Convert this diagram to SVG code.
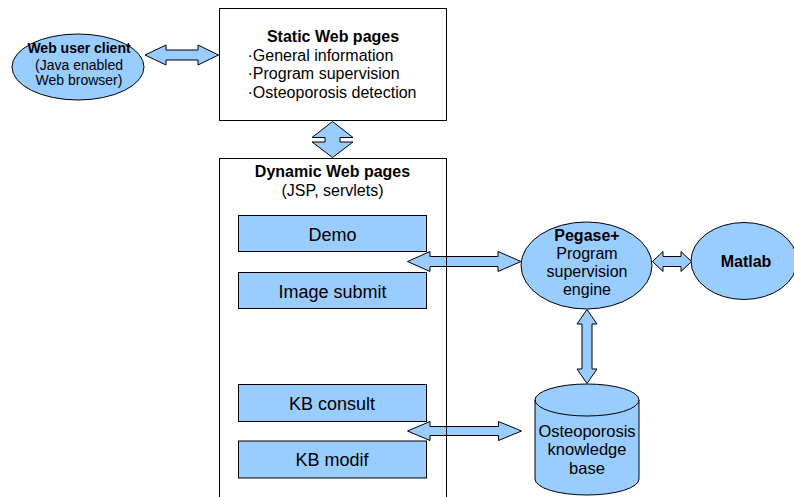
<svg xmlns="http://www.w3.org/2000/svg" width="794" height="497" viewBox="0 0 794 497">
  <style>
    text { font-family: "Liberation Sans", Arial, sans-serif; fill: #000; }
    .t { font-size: 16px; }
    .tb { font-size: 16px; font-weight: bold; }
    .lbl { font-size: 18px; }
    .c { text-anchor: middle; }
    .shape { fill: #99ccff; stroke: #000; stroke-width: 1; }
    .frame { fill: #fff; stroke: #000; stroke-width: 1; }
    .frame-open { fill: none; stroke: #000; stroke-width: 1; }
    .arrow { fill: #99ccff; stroke: #000; stroke-width: 1; stroke-linejoin: miter; }
  </style>

  <rect width="794" height="497" fill="#fff"/>

  <!-- browser client -->
  <g id="web-user-client">
    <ellipse class="shape" cx="78" cy="67" rx="66" ry="33"/>
    <text class="tb c" x="79" y="52.5" style="font-size:14px">Web user client</text>
    <text class="t c" x="79" y="69.5" style="font-size:14px">(Java enabled</text>
    <text class="t c" x="79" y="85" style="font-size:14px">Web browser)</text>
  </g>

  <!-- static pages -->
  <g id="static-web-pages">
    <rect class="frame" x="219.5" y="8.5" width="227" height="112"/>
    <text class="tb c" x="333" y="42">Static Web pages</text>
    <text class="t" x="247.5" y="60.5">·General information</text>
    <text class="t" x="247.5" y="79">·Program supervision</text>
    <text class="t" x="247.5" y="97.5">·Osteoporosis detection</text>
  </g>

  <!-- servlet modules -->
  <g id="demo">
    <rect class="shape" x="238.5" y="215.5" width="188" height="36"/>
    <text class="lbl c" x="332.5" y="240.5">Demo</text>
  </g>
  <g id="image-submit">
    <rect class="shape" x="238.5" y="272.5" width="188" height="36"/>
    <text class="lbl c" x="332.5" y="297.5">Image submit</text>
  </g>
  <g id="kb-consult">
    <rect class="shape" x="238.5" y="384.5" width="188" height="37"/>
    <text class="lbl c" x="332" y="410">KB consult</text>
  </g>
  <g id="kb-modif">
    <rect class="shape" x="238.5" y="441" width="188" height="37"/>
    <text class="lbl c" x="332" y="466">KB modif</text>
  </g>

  <!-- supervision engine -->
  <g id="pegase">
    <ellipse class="shape" cx="586.5" cy="265.5" rx="65.5" ry="43.5"/>
    <text class="tb c" x="587" y="241">Pegase+</text>
    <text class="t c" x="587" y="259">Program</text>
    <text class="t c" x="587" y="277">supervision</text>
    <text class="t c" x="587" y="294.5">engine</text>
  </g>

  <g id="matlab">
    <ellipse class="shape" cx="744" cy="261" rx="53" ry="38.5"/>
    <text class="tb c" x="746" y="267">Matlab</text>
  </g>

  <!-- knowledge base cylinder -->
  <g id="knowledge-base">
    <path class="shape" d="M535,400 A52,16 0 0 1 639,400 L639,479 A52,16 0 0 1 535,479 Z"/>
    <path d="M535,400 A52,16 0 0 0 639,400" fill="none" stroke="#000" stroke-width="1"/>
    <text class="t c" x="587" y="437" style="font-size:16.5px">Osteoporosis</text>
    <text class="t c" x="587" y="455" style="font-size:16.5px">knowledge</text>
    <text class="t c" x="587" y="473.5" style="font-size:16.5px">base</text>
  </g>

  <!-- double-headed block arrows -->
  <g id="connectors">
    <!-- client <-> static pages -->
    <polygon class="arrow" points="145,55 166,45 166,50 198,50 198,45 218.5,55 198,65 198,60 166,60 166,65"/>
    <!-- static <-> dynamic pages -->
    <polygon class="arrow" points="332.5,121.5 353,137.5 340,137.5 340,142 353,142 332.5,157.5 312,142 325,142 325,137.5 312,137.5"/>
    <!-- demo / image submit <-> engine -->
    <polygon class="arrow" points="407.5,261.5 430,251.5 430,256.5 498,256.5 498,251.5 521,261.5 498,271.5 498,266.5 430,266.5 430,271.5"/>
    <!-- engine <-> matlab -->
    <polygon class="arrow" points="652.5,261.5 663,251.5 663,256.5 681,256.5 681,251.5 691.5,261.5 681,271.5 681,266.5 663,266.5 663,271.5"/>
    <!-- engine <-> knowledge base -->
    <polygon class="arrow" points="587,309.5 597,324 592,324 592,369 597,369 587,383.5 577,369 582,369 582,324 577,324"/>
    <!-- kb pages <-> knowledge base -->
    <polygon class="arrow" points="407.5,431 430,421.5 430,426.5 498.5,426.5 498.5,421.5 521.5,431 498.5,440.5 498.5,435.5 430,435.5 430,440.5"/>
  </g>

  <!-- dynamic pages container frame, stroked over the arrow shafts -->
  <g id="dynamic-web-pages">
    <rect class="frame-open" x="219.5" y="158.5" width="227" height="360"/>
    <text class="tb c" x="332.5" y="177">Dynamic Web pages</text>
    <text class="t c" x="332.5" y="195.5">(JSP, servlets)</text>
  </g>
</svg>
